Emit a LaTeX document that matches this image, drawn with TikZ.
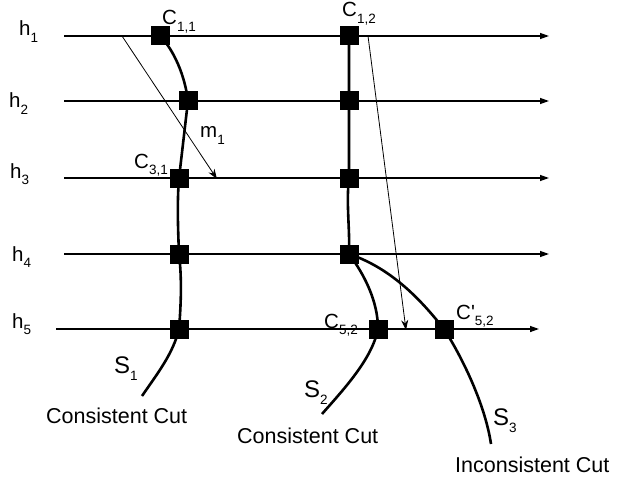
\documentclass[tikz,border=0pt]{standalone}
\usepackage{fontspec}
\setmainfont{Liberation Sans}
\usetikzlibrary{arrows.meta}
\newcommand{\lbl}[2]{#1\raisebox{-0.32em}{\fontsize{13.5}{13.5}\selectfont #2}}
\begin{document}
\begin{tikzpicture}[x=1pt,y=-1pt,
  timeline/.style={line width=1.3pt,-{Triangle[length=9pt,width=6pt]}},
  msgs/.style={line width=0.8pt,-{Stealth[length=10pt,width=7pt]}},
  cut/.style={line width=2.6pt},
  sq/.style={draw=none,fill=black,minimum size=19pt,inner sep=0pt,outer sep=0pt},
  lab/.style={inner sep=0pt,anchor=base west,font=\fontsize{20.5}{20.5}\selectfont},
  slab/.style={inner sep=0pt,anchor=base west,font=\fontsize{24}{24}\selectfont},
  clab/.style={inner sep=0pt,anchor=base west,font=\fontsize{21.5}{21.5}\selectfont}]
\useasboundingbox (0,0) rectangle (617,481);
% timeline end points
\coordinate (a1) at (64,36);  \coordinate (b1) at (549,36);
\coordinate (a2) at (64,101); \coordinate (b2) at (549,101);
\coordinate (a3) at (64,178); \coordinate (b3) at (549,178);
\coordinate (a4) at (64,254); \coordinate (b4) at (549,254);
\coordinate (a5) at (56,329); \coordinate (b5) at (539,329);
\draw[timeline] (a1) -- (b1);
\draw[timeline] (a2) -- (b2);
\draw[timeline] (a3) -- (b3);
\draw[timeline] (a4) -- (b4);
\draw[timeline] (a5) -- (b5);
% messages
\coordinate (m1s) at (122,36); \coordinate (m1e) at (217,179);
\coordinate (m2s) at (368,36); \coordinate (m2e) at (406,330);
\draw[msgs] (m1s) -- (m1e);
\draw[msgs] (m2s) -- (m2e);
% cut ends
\coordinate (e1) at (142,396);
\coordinate (e2) at (322,414);
\coordinate (e3) at (491,444);
% squares
\node[sq] (c11) at (160,36) {};
\node[sq] (c21) at (188,101) {};
\node[sq] (c31) at (179,178) {};
\node[sq] (c41) at (179,254) {};
\node[sq] (c51) at (179,329) {};
\node[sq] (c12) at (349,36) {};
\node[sq] (c22) at (349,101) {};
\node[sq] (c32) at (349,178) {};
\node[sq] (c42) at (349,254) {};
\node[sq] (c52) at (378,329) {};
\node[sq] (c52p) at (444,329) {};
% cut S1
\draw[cut] (c11.center) .. controls +(14,14) and +(-3,-25) .. (c21.center)
  .. controls +(-3,25) and +(3,-25) .. (c31.center)
  .. controls +(-2,25) and +(-1,-25) .. (c41.center)
  .. controls +(3,25) and +(2,-25) .. (c51.center)
  .. controls +(-6,25) and +(15,-22) .. (e1);
% cut S2
\draw[cut] (c12.center) -- (c22.center) -- (c32.center)
  .. controls +(-3,25) and +(1,-25) .. (c42.center)
  .. controls +(15,20) and +(0,-28) .. (c52.center)
  .. controls +(-6,30) and +(22,-25) .. (e2);
% cut S3
\draw[cut] (c42.center) .. controls +(45,15) and +(-20,-25) .. (c52p.center)
  .. controls +(18,28) and +(-6,-40) .. (e3);
% labels
\node[lab] (h1) at (19,36) {\lbl{h}{1}};
\node[lab] (h2) at (9,108) {\lbl{h}{2}};
\node[lab] (h3) at (10,178) {\lbl{h}{3}};
\node[lab] (h4) at (12,261) {\lbl{h}{4}};
\node[lab] (h5) at (12,328) {\lbl{h}{5}};
\node[lab] (lc11) at (162,25) {\lbl{C}{1,1}};
\node[lab] (lc12) at (342,17) {\lbl{C}{1,2}};
\node[lab] (lc31) at (134,168) {\lbl{C}{3,1}};
\node[lab] (lm1) at (200,138) {\lbl{m}{1}};
\node[lab] (lc52) at (324,328) {\lbl{C}{5,2}};
\node[lab] (lc52p) at (456,319) {\lbl{C\textquotesingle}{5,2}};
\node[slab] (ls1) at (114,373) {\lbl{S}{1}};
\node[slab] (ls2) at (304,397) {\lbl{S}{2}};
\node[slab] (ls3) at (493,425) {\lbl{S}{3}};
\node[clab] (cc1) at (46,423) {Consistent Cut};
\node[clab] (cc2) at (237,443) {Consistent Cut};
\node[clab] (ic) at (455,472) {Inconsistent Cut};
\end{tikzpicture}
\end{document}
